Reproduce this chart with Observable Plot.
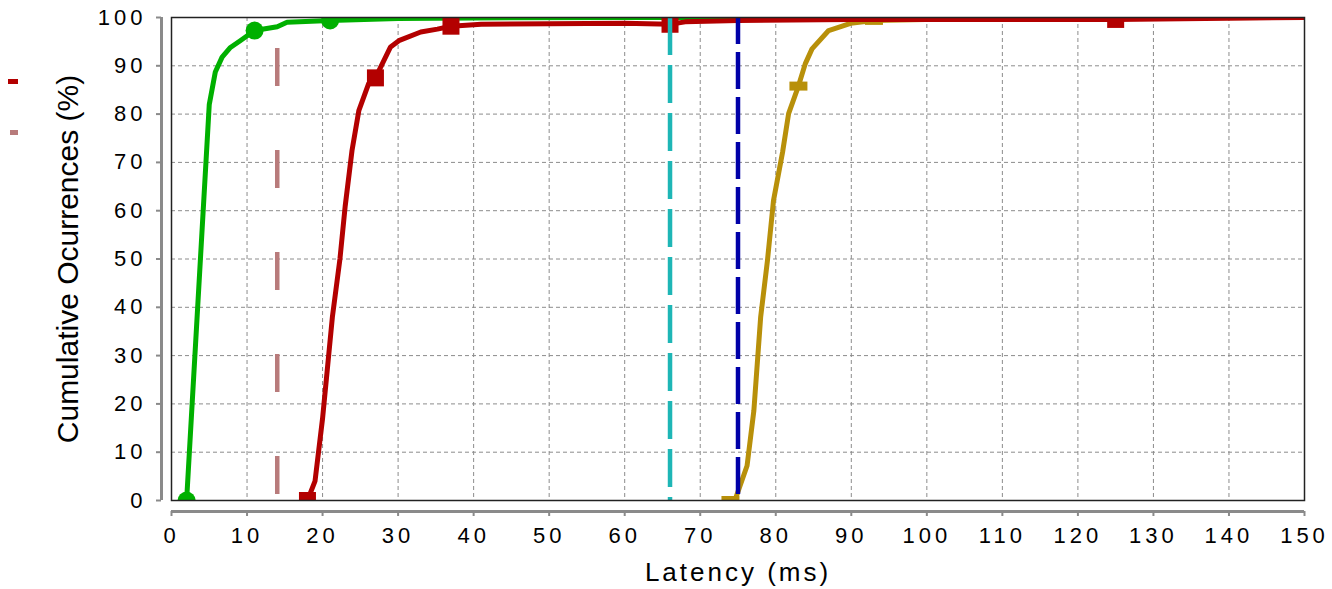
<!DOCTYPE html>
<html>
<head>
<meta charset="utf-8">
<script src="https://cdn.jsdelivr.net/npm/d3@7"></script>
<script src="https://cdn.jsdelivr.net/npm/@observablehq/plot@0.6"></script>
<style>
  body { margin: 0; background: #fff; }
  #chart { position: relative; width: 1332px; height: 589px; font-family: "Liberation Sans", Arial, sans-serif; }
  .leg { position: absolute; }
  g[aria-label="y-axis tick label"] text,
  g[aria-label="x-axis tick label"] text { letter-spacing: 4px; }
</style>
</head>
<body>
<div id="chart"></div>
<script>
// ---- data ----
const xTicks = [0, 10, 20, 30, 40, 50, 60, 70, 80, 90, 100, 110, 120, 130, 140, 150];
const yTicks = [0, 10, 20, 30, 40, 50, 60, 70, 80, 90, 100];

const greenX = [2, 5, 5.8, 6.7, 7.8, 9.1, 11, 14, 15.3, 21, 30, 40, 60, 150];
const greenY = [0, 82, 88.7, 91.8, 93.8, 95.2, 97.3, 98.1, 99.0, 99.4, 99.8, 99.9, 100, 100];
const greenMarkerX = [2, 11, 21];

const redX = [18, 19, 20, 21.3, 22.3, 23, 23.9, 24.8, 26.1, 27, 29, 30.1, 33, 35.2, 37, 41, 50, 60, 66, 68, 75, 90, 125, 150];
const redY = [0, 4, 17, 38, 50, 61, 72.5, 80.7, 86.3, 87.5, 93.9, 95.2, 97.0, 97.6, 98.2, 98.6, 98.7, 98.8, 98.6, 99.1, 99.4, 99.6, 99.6, 100];
const redMarkerX = [18, 27, 37, 66, 125];

const goldX = [74, 74.7, 76.2, 77.1, 78.0, 78.9, 79.7, 80.9, 81.7, 83, 83.9, 84.8, 87.0, 89.9, 93, 110, 150];
const goldY = [0, 0.5, 7.2, 18.6, 38, 49.7, 62.1, 72.1, 80.1, 85.8, 90.4, 93.5, 97.3, 98.8, 99.4, 99.9, 100];
const goldMarkerX = [74, 83, 93];

const rosyLineX = [14];
const cyanLineX = [66];
const blueLineX = [75];

// ---- build tables ----
const toRows = (xs, ys) => xs.map((x, i) => ({x, y: ys[i]}));
const green = toRows(greenX, greenY);
const red = toRows(redX, redY);
const gold = toRows(goldX, goldY);
const pick = (rows, xs) => rows.filter(d => xs.includes(d.x));

const rectSymbol = (w, h) => ({ draw(ctx) { ctx.rect(-w / 2, -h / 2, w, h); } });

const C = {
  green: "#00b000", red: "#b30000", gold: "#b8900a",
  rosy: "#b87b7b", cyan: "#1eb6b6", blue: "#0000a8", grid: "#8c8c8c", axis: "#8a8a8a"
};

const plot = Plot.plot({
  width: 1332,
  height: 589,
  marginLeft: 171,
  marginRight: 28,
  marginTop: 17,
  marginBottom: 89,
  style: { fontFamily: "'Liberation Sans', Arial, sans-serif", background: "#fff", overflow: "visible" },
  x: { domain: [0, 150] },
  y: { domain: [0, 100] },
  marks: [
    Plot.gridX(xTicks, { stroke: C.grid, strokeOpacity: 1, strokeWidth: 1, strokeDasharray: "4,3" }),
    Plot.gridY(yTicks, { stroke: C.grid, strokeOpacity: 1, strokeWidth: 1, strokeDasharray: "4,3" }),
    // axes (offset from the frame)
    Plot.ruleX([0], { dx: -10, stroke: C.axis, strokeWidth: 3 }),
    Plot.ruleY([0], { dy: 11, stroke: C.axis, strokeWidth: 3 }),
    Plot.axisY(yTicks, { dx: -10, tickSize: 5, tickPadding: 10, stroke: C.axis, strokeWidth: 2, fill: "#000", fontSize: 22, label: null }),
    Plot.axisX(xTicks, { dy: 11, tickSize: 5, tickPadding: 11, stroke: C.axis, strokeWidth: 2, fill: "#000", fontSize: 22, label: null }),
    // curves
    Plot.line(gold, { x: "x", y: "y", stroke: C.gold, strokeWidth: 5, clip: true }),
    Plot.dot(pick(gold, goldMarkerX), { x: "x", y: "y", fill: C.gold, stroke: null, symbol: rectSymbol(18, 9), r: 5, clip: true }),
    Plot.line(green, { x: "x", y: "y", stroke: C.green, strokeWidth: 5, clip: true }),
    Plot.dot(pick(green, greenMarkerX), { x: "x", y: "y", fill: C.green, stroke: null, r: 9, clip: true }),
    Plot.line(red, { x: "x", y: "y", stroke: C.red, strokeWidth: 5, clip: true }),
    Plot.dot(pick(red, redMarkerX), { x: "x", y: "y", fill: C.red, stroke: null, symbol: rectSymbol(17, 17), r: 5, clip: true }),
    // vertical dashed reference lines
    Plot.ruleX(rosyLineX, { stroke: C.rosy, strokeWidth: 4.5, strokeDasharray: "38,64", strokeDashoffset: 71 }),
    Plot.ruleX(cyanLineX, { stroke: C.cyan, strokeWidth: 4.5, strokeDasharray: "38,10", strokeDashoffset: 0 }),
    Plot.ruleX(blueLineX, { stroke: C.blue, strokeWidth: 4.5, strokeDasharray: "37,8", strokeDashoffset: 10 }),
    Plot.frame({ stroke: "#222", strokeWidth: 1.5 }),
    // axis titles
    Plot.text(["Latency (ms)"], { frameAnchor: "bottom", dy: 80, fontSize: 26, fill: "#000" }),
    Plot.text(["Cumulative Ocurrences (%)"], { frameAnchor: "left", textAnchor: "middle", dx: -103, rotate: -90, fontSize: 30, fill: "#000" })
  ]
});

d3.select(plot).selectAll("text")
  .filter(function () { return this.textContent === "Latency (ms)"; })
  .style("letter-spacing", "3px");

const chart = document.getElementById("chart");
chart.appendChild(plot);

// legend swatches (legend text is absent in the reference)
const legend = [
  { color: C.red, left: 8, top: 79, w: 10, h: 5 },
  { color: C.rosy, left: 10, top: 130, w: 8, h: 5 }
];
legend.forEach(l => {
  const d = document.createElement("div");
  d.className = "leg";
  Object.assign(d.style, { left: l.left + "px", top: l.top + "px", width: l.w + "px", height: l.h + "px", background: l.color });
  chart.appendChild(d);
});
</script>
</body>
</html>
